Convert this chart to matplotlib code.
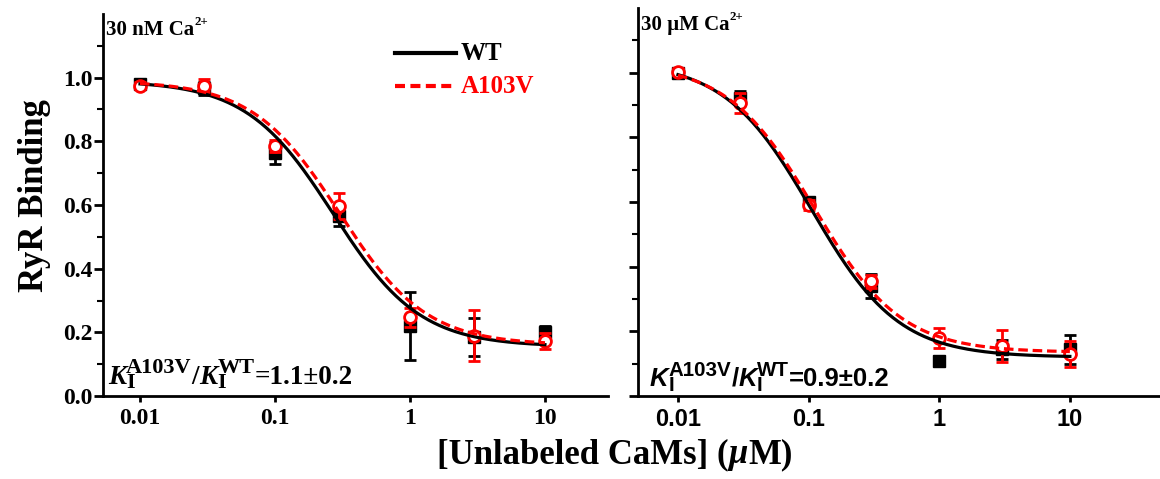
import numpy as np
import matplotlib
matplotlib.use("Agg")
import matplotlib.pyplot as plt
from matplotlib.ticker import FixedLocator, NullFormatter, NullLocator

# ---------------- data ----------------
conc = [0.01, 0.03, 0.1, 0.3, 1, 3, 10]
xticks = [0.01, 0.1, 1, 10]
xtick_labels = ["0.01", "0.1", "1", "10"]
yticks = [0.0, 0.2, 0.4, 0.6, 0.8, 1.0]
ytick_labels = ["0.0", "0.2", "0.4", "0.6", "0.8", "1.0"]

# 30 nM Ca2+
low_wt = [0.981, 0.967, 0.764, 0.565, 0.22, 0.185, 0.20]
low_wt_err = [0.012, 0.02, 0.035, 0.03, 0.107, 0.06, 0.02]
low_mut = [0.975, 0.975, 0.785, 0.597, 0.248, 0.189, 0.173]
low_mut_err = [0.01, 0.02, 0.02, 0.04, 0.03, 0.08, 0.025]

# 30 uM Ca2+
high_wt = [1.0, 0.922, 0.60, 0.34, 0.108, 0.144, 0.144]
high_wt_err = [0.012, 0.022, 0.012, 0.036, 0.015, 0.03, 0.045]
high_mut = [1.003, 0.906, 0.59, 0.355, 0.18, 0.154, 0.129]
high_mut_err = [0.01, 0.03, 0.015, 0.02, 0.03, 0.05, 0.04]

# Hill fit parameters: top, bottom, IC50, n
low_wt_fit = [0.99, 0.155, 0.27, 1.35]
low_mut_fit = [0.99, 0.16, 0.30, 1.35]
high_wt_fit = [1.035, 0.12, 0.105, 1.3]
high_mut_fit = [1.03, 0.135, 0.11, 1.3]

W, H = 1160, 479
fig = plt.figure(figsize=(W / 100, H / 100), dpi=100)
renderer = fig.canvas.get_renderer()

serif = "Liberation Serif"
sans = "Liberation Sans"


def hill(x, p):
    top, bot, ic, n = p
    return bot + (top - bot) / (1 + (x / ic) ** n)


def rich(xpx, ypx, pieces, size, family, color="black", ha="left", small=0.68,
         sub_dy=-0.22, sup_dy=0.42):
    """pieces: list of groups; each group = (main, sub, sup, style). ypx = baseline (from top)."""
    px = size * 100 / 72

    def layout(x):
        x0 = x
        made = []
        for main, sub, sup, style in pieces:
            if main:
                t = fig.text(x / W, 1 - ypx / H, main, fontsize=size, family=family,
                             fontweight="bold", style=style, color=color, va="baseline", ha="left")
                x += t.get_window_extent(renderer).width
                made.append(t)
            w = 0
            for s, dy in ((sub, sub_dy * px), (sup, sup_dy * px)):
                if s:
                    t = fig.text(x / W, 1 - (ypx - dy) / H, s, fontsize=size * small, family=family,
                                 fontweight="bold", color=color, va="baseline", ha="left")
                    w = max(w, t.get_window_extent(renderer).width)
                    made.append(t)
            x += w
        return x - x0, made

    if ha == "center":
        width, made = layout(xpx)
        for t in made:
            t.remove()
        xpx = xpx - width / 2
    layout(xpx)


def make_ax(rect, xlim, tickfont, show_ylabels):
    ax = fig.add_axes(rect)
    ax.set_xscale("log")
    ax.set_xlim(*xlim)
    ax.set_ylim(0, 1.2)
    for s in ["top", "right"]:
        ax.spines[s].set_visible(False)
    for s in ["left", "bottom"]:
        ax.spines[s].set_linewidth(2)
    ax.xaxis.set_major_locator(FixedLocator(xticks))
    ax.xaxis.set_minor_locator(NullLocator())
    ax.set_xticklabels(xtick_labels, fontfamily=tickfont, fontweight="bold", fontsize=17)
    ax.yaxis.set_major_locator(FixedLocator(yticks))
    ax.yaxis.set_minor_locator(FixedLocator([0.1, 0.3, 0.5, 0.7, 0.9, 1.1]))
    if show_ylabels:
        ax.set_yticklabels(ytick_labels, fontfamily=serif, fontweight="bold", fontsize=17)
    else:
        ax.yaxis.set_major_formatter(NullFormatter())
    ax.tick_params(axis="x", which="major", direction="out", length=4.5, width=2, pad=4)
    ax.tick_params(axis="y", which="major", direction="out", length=6.5, width=2, pad=1)
    ax.tick_params(axis="y", which="minor", direction="out", length=4, width=1.5)
    return ax


def draw(ax, wt, wt_err, mut, mut_err, pwt, pmut):
    xs = np.logspace(np.log10(0.01), np.log10(10), 300)
    ax.errorbar(conc, wt, yerr=wt_err, fmt="s", color="black", ms=8, capsize=4,
                elinewidth=2, capthick=2, zorder=3)
    ax.errorbar(conc, mut, yerr=mut_err, fmt="o", color="red", mfc="white", mec="red",
                mew=2, ms=8.5, capsize=4, elinewidth=2, capthick=2, zorder=4)
    ax.plot(xs, hill(xs, pwt), color="black", lw=2.3, zorder=5)
    ax.plot(xs, hill(xs, pmut), color="red", lw=2.3, ls=(0, (3, 1.5)), zorder=6)


# left panel
ax1 = make_ax([103 / W, 83 / H, 505 / W, 382 / H], (10 ** -2.274, 10 ** 1.467), serif, True)
draw(ax1, low_wt, low_wt_err, low_mut, low_mut_err, low_wt_fit, low_mut_fit)
ax1.set_ylabel("RyR Binding", fontfamily=serif, fontweight="bold", fontsize=25)
ax1.yaxis.set_label_coords((51 - 103) / 505, 0.526)

# legend (drawn by hand, like the original)
ax1.plot([(395 - 103) / 505, (456 - 103) / 505], [1 - (53 - 14) / 382] * 2, transform=ax1.transAxes,
         color="black", lw=3, clip_on=False)
ax1.plot([(395 - 103) / 505, (456 - 103) / 505], [1 - (86 - 14) / 382] * 2, transform=ax1.transAxes,
         color="red", lw=3, ls=(0, (2.4, 1.3)), clip_on=False)
fig.text(461 / W, 1 - 60 / H, "WT", ha="left", va="baseline", family=serif, fontweight="bold",
         fontsize=18, color="black")
fig.text(461 / W, 1 - 93 / H, "A103V", ha="left", va="baseline", family=serif, fontweight="bold",
         fontsize=18, color="red")

# panel annotations
rich(106, 35, [("30 nM Ca", None, "2+", "normal")], 15, serif, small=0.62, sup_dy=0.5)
rich(108, 384, [("K", "I", "A103V", "italic"), ("/", None, None, "normal"),
                ("K", "I", "WT", "italic"), ("=1.1\u00b10.2", None, None, "normal")], 19.5, serif,
     small=0.82, sub_dy=-0.14, sup_dy=0.4)

# right panel
ax2 = make_ax([638 / W, 83 / H, 522 / W, 388 / H], (10 ** -2.306, 10 ** 1.69), sans, False)
draw(ax2, high_wt, high_wt_err, high_mut, high_mut_err, high_wt_fit, high_mut_fit)
rich(641, 30, [("30 \u00b5M Ca", None, "2+", "normal")], 15, serif, small=0.62, sup_dy=0.5)
rich(650, 386, [("K", "I", "A103V", "italic"), ("/", None, None, "normal"),
                ("K", "I", "WT", "italic"), ("=0.9\u00b10.2", None, None, "normal")], 18.5, sans,
     small=0.8, sub_dy=-0.2, sup_dy=0.4)

# shared x label
rich(615, 463, [("[Unlabeled CaMs] (", None, None, "normal"), ("\u03bc", None, None, "italic"),
                ("M)", None, None, "normal")], 25, serif, ha="center")

fig.savefig("out.png", dpi=100)
